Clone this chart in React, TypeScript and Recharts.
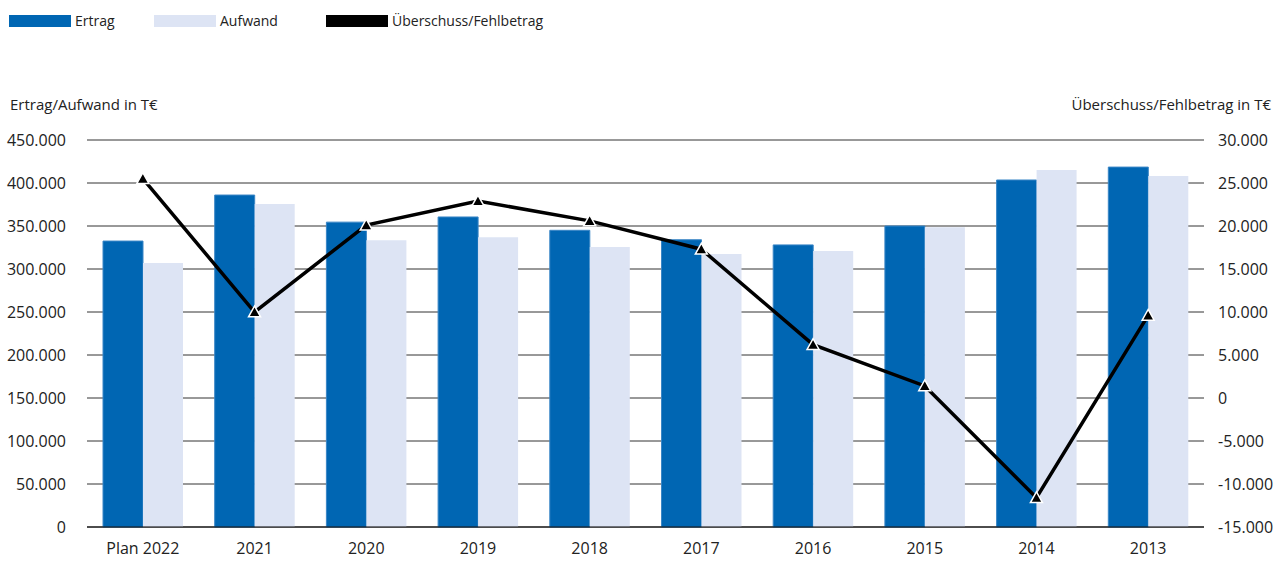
import React from 'react';
import { ComposedChart, Bar, Line, XAxis, YAxis, CartesianGrid } from 'recharts';

const categories = ['Plan 2022', '2021', '2020', '2019', '2018', '2017', '2016', '2015', '2014', '2013'];
const ertrag = [332500, 386000, 354500, 360500, 345000, 334000, 328000, 350000, 403500, 418500];
const aufwand = [307000, 375500, 333500, 337000, 325500, 317500, 321000, 348500, 415000, 408000];
const ueberschuss = [25500, 10000, 20100, 22900, 20600, 17300, 6200, 1400, -11600, 9600];

const leftTicks = [0, 50000, 100000, 150000, 200000, 250000, 300000, 350000, 400000, 450000];
const rightTicks = [-15000, -10000, -5000, 0, 5000, 10000, 15000, 20000, 25000, 30000];

const FONT = '"Open Sans", sans-serif';

const formatDe = (v: number): string => {
  const abs = Math.abs(v).toString().replace(/\B(?=(\d{3})+(?!\d))/g, '.');
  return v < 0 ? `-${abs}` : abs;
};

const data = categories.map((name, i) => ({
  name,
  ertrag: ertrag[i],
  aufwand: aufwand[i],
  ueberschuss: ueberschuss[i],
}));

const Triangle = (props: any) => {
  const { cx, cy } = props;
  if (cx == null || cy == null) return null;
  const s = 6;
  return (
    <polygon
      points={`${cx},${cy - s} ${cx + s},${cy + s * 0.8} ${cx - s},${cy + s * 0.8}`}
      fill="#000"
      stroke="#fff"
      strokeWidth={1.5}
    />
  );
};

const legendItems = [
  { label: 'Ertrag', color: '#0066b3', left: 9 },
  { label: 'Aufwand', color: '#dde4f4', left: 154 },
  { label: 'Überschuss/Fehlbetrag', color: '#000', left: 326 },
];

export default function App() {
  return (
    <div style={{ position: 'absolute', left: 0, top: 0, width: 1278, height: 561, fontFamily: FONT, background: '#fff' }}>
      {legendItems.map(item => (
        <div key={item.label} style={{ position: 'absolute', left: item.left, top: 11, display: 'flex', alignItems: 'center' }}>
          <div style={{ width: 62, height: 12, background: item.color }} />
          <span style={{ marginLeft: 4, fontSize: 14, color: '#222' }}>{item.label}</span>
        </div>
      ))}
      <div style={{ position: 'absolute', left: 10, top: 94, fontSize: 15, color: '#222' }}>Ertrag/Aufwand in T€</div>
      <div style={{ position: 'absolute', right: 7, top: 94, fontSize: 15, color: '#222' }}>Überschuss/Fehlbetrag in T€</div>
      <ComposedChart
        width={1278}
        height={561}
        data={data}
        margin={{ top: 140, right: 0, bottom: 0, left: 0 }}
        barGap={0}
      >
        <CartesianGrid yAxisId="left" vertical={false} stroke="#333" strokeWidth={1} />
        <XAxis
          dataKey="name"
          height={34}
          tickLine={false}
          axisLine={{ stroke: '#000' }}
          tickMargin={10}
          tick={{ fontSize: 16, fill: '#222', fontFamily: FONT }}
        />
        <YAxis
          yAxisId="left"
          width={87}
          domain={[0, 450000]}
          ticks={leftTicks}
          tickFormatter={formatDe}
          tickLine={false}
          axisLine={false}
          tickMargin={15}
          interval={0}
          tick={{ fontSize: 16, fill: '#222', fontFamily: FONT }}
        />
        <YAxis
          yAxisId="right"
          orientation="right"
          width={74}
          domain={[-15000, 30000]}
          ticks={rightTicks}
          tickFormatter={formatDe}
          tickLine={false}
          axisLine={false}
          tickMargin={8}
          interval={0}
          tick={{ fontSize: 16, fill: '#222', fontFamily: FONT, textAnchor: 'start' }}
        />
        <Bar yAxisId="left" dataKey="ertrag" fill="#0066b3" stroke="#3a86c6" strokeWidth={1} barSize={40} isAnimationActive={false} />
        <Bar yAxisId="left" dataKey="aufwand" fill="#dde4f4" barSize={40} isAnimationActive={false} />
        <Line
          yAxisId="right"
          type="linear"
          dataKey="ueberschuss"
          stroke="#000"
          strokeWidth={3.5}
          dot={<Triangle />}
          activeDot={false}
          isAnimationActive={false}
        />
      </ComposedChart>
    </div>
  );
}
